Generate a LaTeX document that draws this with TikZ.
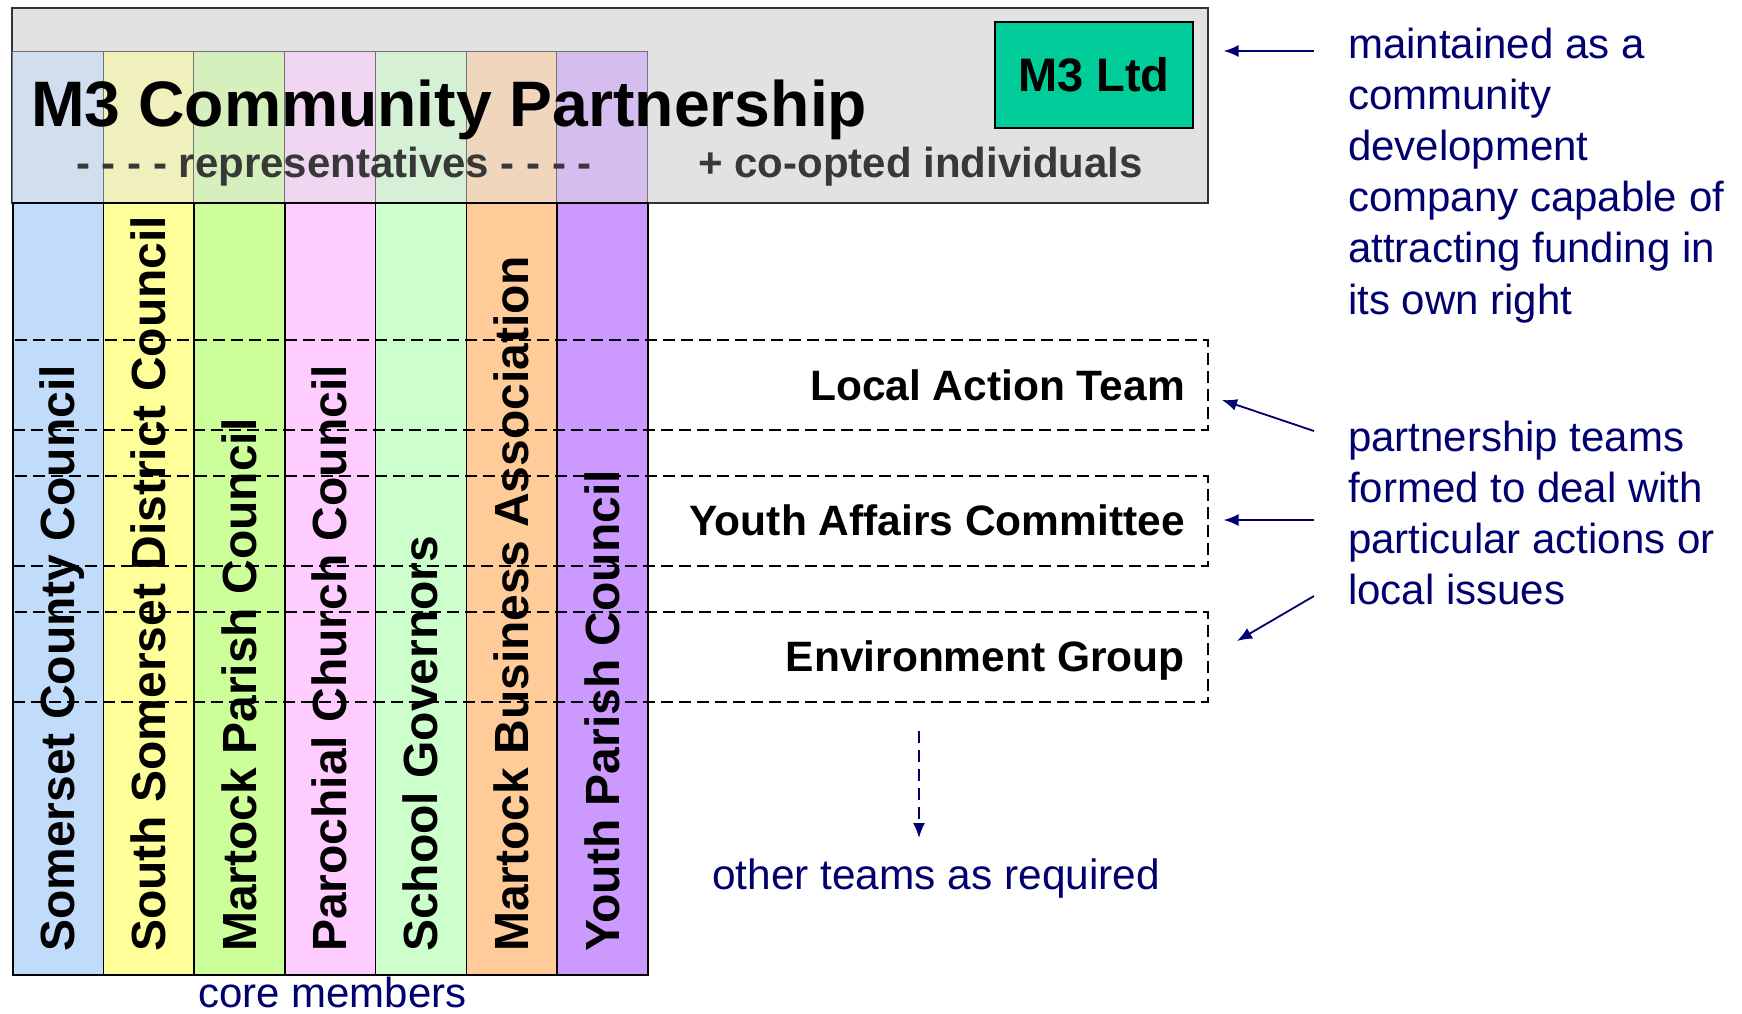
\documentclass[tikz,border=0pt]{standalone}
\usepackage{fontspec}
\setmainfont{Liberation Sans}
\usetikzlibrary{arrows.meta}
\definecolor{navy}{RGB}{0,0,110}
\definecolor{hdrgray}{RGB}{226,226,226}
\definecolor{cA}{RGB}{192,220,250}
\definecolor{cB}{RGB}{255,255,153}
\definecolor{cC}{RGB}{204,255,153}
\definecolor{cD}{RGB}{255,204,255}
\definecolor{cE}{RGB}{204,255,204}
\definecolor{cF}{RGB}{255,204,153}
\definecolor{cG}{RGB}{204,153,255}
\definecolor{ltdgreen}{RGB}{0,204,153}
\begin{document}
\begin{tikzpicture}[x=1pt,y=-1pt,
  hdrbox/.style={draw=black!80, line width=1.6pt, fill=hdrgray, anchor=north west, inner sep=0},
  colband/.style={draw=black!55, line width=0.9pt, fill opacity=0.5, anchor=north west, minimum width=90.7, minimum height=151, inner sep=0},
  colbox/.style={draw=black, line width=1.6pt, anchor=north west, minimum width=90.7, minimum height=772, inner sep=0},
  coltext/.style={rotate=90, anchor=base west, inner sep=0, font=\fontsize{48}{56}\selectfont\bfseries},
  teambox/.style={draw=black, line width=1.6pt, dash pattern=on 12pt off 6pt, anchor=north west, minimum width=1195, minimum height=90, inner sep=0},
  teamtext/.style={anchor=base east, inner sep=0, font=\fontsize{42.5}{50}\selectfont\bfseries},
  note/.style={text=navy, inner sep=0, align=left, font=\fontsize{42}{51.2}\selectfont},
  arr/.style={draw=navy, line width=1.8pt, -{Latex[length=15pt,width=12pt]}},
  dasharr/.style={draw=navy, line width=1.8pt, dash pattern=on 12pt off 7pt, -{Latex[length=15pt,width=12pt]}},
  subtext/.style={anchor=base west, inner sep=0, text=black!78, font=\fontsize{42}{50}\selectfont\bfseries}
]
\useasboundingbox (0,0) rectangle (1742,1013);

% header
\node[hdrbox, minimum width=1196, minimum height=195] (hdr) at (11,7) {};

% columns (band in header + solid body)
\foreach \i/\c [count=\k from 0] in {1/cA,2/cB,3/cC,4/cD,5/cE,6/cF,7/cG}{
  \node[colband, fill=\c] (band\i) at (12+90.7*\k,51) {};
  \node[colbox, fill=\c] (col\i) at (12+90.7*\k,202) {};
}

% column texts
\node[coltext] (t1) at (12+45.35+17.5,952) {Somerset County Council};
\node[coltext] (t2) at (12+90.7+45.35+17.5,952) {South Somerset District Council};
\node[coltext] (t3) at (12+2*90.7+45.35+17.5,952) {Martock Parish Council};
\node[coltext] (t4) at (12+3*90.7+45.35+17.5,952) {Parochial Church Council};
\node[coltext] (t5) at (12+4*90.7+45.35+17.5,952) {School Governors};
\node[coltext] (t6) at (12+5*90.7+45.35+17.5,952) {Martock Business Association};
\node[coltext] (t7) at (12+6*90.7+45.35+17.5,952) {Youth Parish Council};

% team boxes
\node[teambox] (lat) at (12,339) {};
\node[teambox] (yac) at (12,475) {};
\node[teambox] (eg) at (12,611) {};
\node[teamtext] (latt) at (1185,400) {Local Action Team};
\node[teamtext] (yact) at (1185,535) {Youth Affairs Committee};
\node[teamtext] (egt) at (1185,671) {Environment Group};

% header texts
\node[anchor=base west, inner sep=0, font=\fontsize{64.3}{70}\selectfont\bfseries] (title) at (31,126) {M3 Community Partnership};
\node[subtext] (reps) at (76,177) {- - - - representatives - - - -};
\node[subtext] (coopt) at (698,177) {+ co-opted individuals};
\node[draw=black, line width=1.6pt, fill=ltdgreen, anchor=north west, minimum width=198, minimum height=106, inner sep=0, font=\fontsize{47}{50}\selectfont\bfseries] (ltd) at (994,21) {M3 Ltd};

% notes
\node[note, anchor=north west] (n1) at (1348,27.5) {maintained as a\\community\\development\\company capable of\\attracting funding in\\its own right};
\node[note, anchor=north west] (n2) at (1348,420.5) {partnership teams\\formed to deal with\\particular actions or\\local issues};
\node[note, anchor=base west, font=\fontsize{42.4}{51.2}\selectfont] (other) at (712,889) {other teams as required};
\node[note, anchor=base west] (core) at (198,1007) {core members};

% arrows
\coordinate (a1s) at (1314,51);
\coordinate (a2s) at (1314,431);
\coordinate (a2e) at (1222,400);
\coordinate (a3s) at (1314,520);
\coordinate (a4s) at (1314,596);
\coordinate (a4e) at (1237,641);
\coordinate (a5s) at (919,731);
\coordinate (a5e) at (919,838);
\draw[arr, shorten >=15pt] (a1s) -- (a1s -| hdr.east);
\draw[arr] (a2s) -- (a2e);
\draw[arr, shorten >=15pt] (a3s) -- (a3s -| yac.east);
\draw[arr] (a4s) -- (a4e);
\draw[dasharr] (a5s) -- (a5e);
\end{tikzpicture}
\end{document}
